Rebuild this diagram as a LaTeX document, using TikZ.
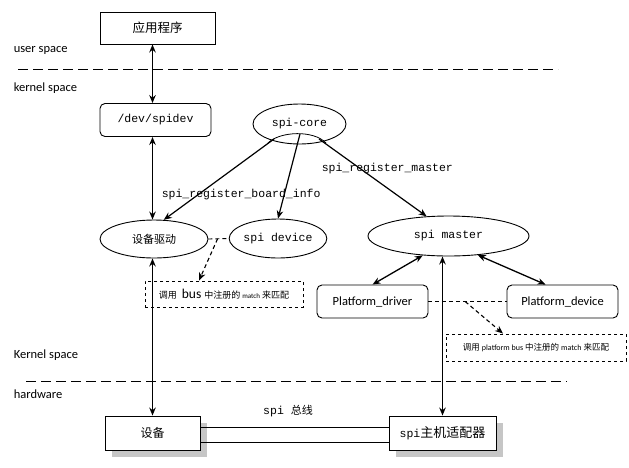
\documentclass[tikz,border=0pt]{standalone}
\usepackage{fontspec}
\setmainfont{Carlito}
\setmonofont{Liberation Mono}
\newfontfamily\cjk{Noto Sans CJK SC}
\usetikzlibrary{arrows.meta, shapes.geometric, shadows, calc}

\begin{document}
\begin{tikzpicture}[x=1pt, y=-1pt, line width=0.9pt,
    box/.style={draw, minimum height=34pt, inner sep=0pt},
    rbox/.style={draw, rounded corners=5pt, minimum width=111pt, minimum height=33pt, inner sep=0pt},
    oval/.style={draw, ellipse, inner sep=0pt, font=\ttfamily\fontsize{11.5}{13}\selectfont},
    hw/.style={box, fill=white, drop shadow={shadow xshift=7pt, shadow yshift=-7pt, fill=gray!45, opacity=1}},
    mbox/.style={draw, dashed, inner sep=0pt},
    arr/.style={{Stealth[length=8pt,width=6.5pt]}-{Stealth[length=8pt,width=6.5pt]}, line width=1.3pt},
    oarr/.style={-{Stealth[length=8pt,width=6.5pt]}, line width=1.2pt},
    darr/.style={-{Stealth[length=8pt,width=6.5pt]}, dash pattern=on 4pt off 3pt, line width=1.1pt},
    link/.style={dash pattern=on 4pt off 3pt, line width=0.9pt},
    sep/.style={dash pattern=on 10pt off 5pt, line width=1pt},
    lbl/.style={anchor=west, font=\fontsize{12.5}{14}\selectfont},
    fn/.style={anchor=west, font=\ttfamily\fontsize{11.5}{13}\selectfont}]
    \useasboundingbox (0,0) rectangle (629,467);

    % 分层
    \draw[sep] (18,69) -- (558,69);
    \draw[sep] (26,381) -- (567,381);
    \node[lbl] (us) at (10,50) {user space};
    \node[lbl] (ks) at (10,88) {kernel space};
    \node[lbl] (ks2) at (10,355) {Kernel space};
    \node[lbl] (hwl) at (10,394) {hardware};

    % 用户空间与设备文件
    \node[box, minimum width=115pt, minimum height=32pt, font=\cjk\fontsize{12.5}{14}\selectfont] (app) at (157.5,28) {应用程序};
    \node[rbox, font=\ttfamily\fontsize{11.5}{13}\selectfont] (spidev) at (155.5,120) {/dev/spidev};

    % spi 核心
    \node[oval, minimum width=93pt, minimum height=40pt] (core) at (299.5,124) {spi-core};
    \draw[line width=0.8pt] (268,143) .. controls (280,131) and (314,130) .. (326,143);
    \coordinate (c1) at (274,139);
    \coordinate (c2) at (300,134);
    \coordinate (c3) at (319,139);

    % 驱动与设备
    \node[oval, minimum width=108pt, minimum height=38pt, font=\cjk\fontsize{11}{13}\selectfont] (drv) at (154,239) {设备驱动};
    \node[oval, minimum width=80pt, minimum height=39pt] (sdev) at (278,238.5) {spi device};
    \node[oval, minimum width=161pt, minimum height=40pt] (master) at (448.5,236) {spi master};

    % 平台总线
    \node[rbox, font=\fontsize{12.5}{14}\selectfont] (pdrv) at (372.5,301.5) {Platform\_driver};
    \node[rbox, font=\fontsize{12.5}{14}\selectfont] (pdev) at (562.5,301.5) {Platform\_device};

    % 匹配说明
    \node[mbox, minimum width=158pt, minimum height=26pt] (match1) at (224,294)
        {{\cjk\fontsize{9}{11}\selectfont 调用}\hspace{5pt}{\fontsize{13.5}{14}\selectfont bus}\hspace{3pt}{\cjk\fontsize{9}{11}\selectfont 中注册的}\hspace{2pt}{\fontsize{7}{9}\selectfont match}\hspace{2pt}{\cjk\fontsize{9}{11}\selectfont 来匹配}};
    \node[mbox, minimum width=180pt, minimum height=27pt] (match2) at (536,347.5)
        {{\cjk\fontsize{8.5}{10}\selectfont 调用}\hspace{2pt}{\fontsize{8}{10}\selectfont platform bus}\hspace{2pt}{\cjk\fontsize{8.5}{10}\selectfont 中注册的}\hspace{2pt}{\fontsize{8}{10}\selectfont match}\hspace{2pt}{\cjk\fontsize{8.5}{10}\selectfont 来匹配}};

    % 硬件
    \node[hw, minimum width=95pt, font=\cjk\fontsize{12}{14}\selectfont] (dev) at (152.5,433) {设备};
    \node[hw, minimum width=107pt] (host) at (442.5,433)
        {{\ttfamily\fontsize{11.5}{13}\selectfont spi}{\cjk\fontsize{13}{15}\selectfont 主机适配器}};
    \draw ($(dev.east)+(0,-6)$) -- ($(host.west)+(0,-6)$);
    \draw ($(dev.east)+(0,9)$) -- ($(host.west)+(0,9)$);
    \node[font=\ttfamily\fontsize{11.5}{13}\selectfont] (bus) at (288,411) {spi {\cjk\fontsize{11}{13}\selectfont 总线}};

    % 连线
    \draw[arr] (app.south -| dev) -- (spidev.north -| dev);
    \draw[arr] (spidev.south -| dev) -- (drv.north -| dev);
    \draw[arr] (drv.south -| dev) -- (dev.north);
    \draw[arr] (master.south -| host) -- (host.north);
    \draw[oarr] (c1) -- (drv.63);
    \draw[oarr] (c2) -- (sdev.north);
    \draw[oarr] (c3) -- (master.138);
    \draw[arr] (master.217) -- (pdrv.north);
    \draw[arr] (master.327) -- (pdev.135);
    \node[fn] (lreg) at (158,195) {spi\_register\_board\_info};
    \node[fn] (lmst) at (318,169) {spi\_register\_master};

    % 匹配
    \draw[link] (drv.east) -- coordinate[pos=0.45] (m1) (sdev.west);
    \draw[darr] (m1) -- ($(match1.north)+(-25,0)$);
    \draw[link] (pdrv.east) -- coordinate[pos=0.47] (m2) (pdev.west);
    \draw[darr] (m2) -- ($(match2.north)+(-33,0)$);
\end{tikzpicture}
\end{document}
